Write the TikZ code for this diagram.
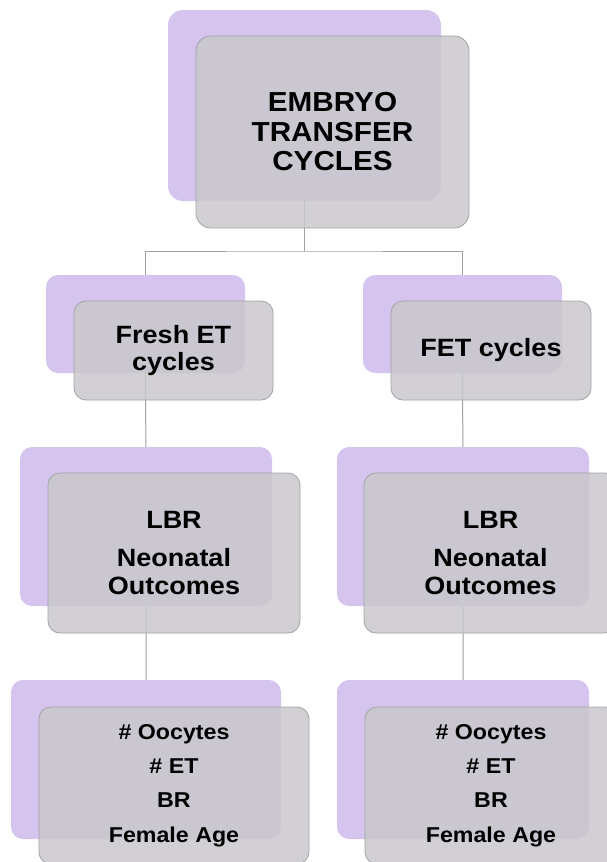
\documentclass[tikz,border=0pt]{standalone}
\usepackage{fontspec}
\setmainfont[FakeStretch=1.08]{Liberation Sans}
\usetikzlibrary{backgrounds}
\definecolor{lilac}{HTML}{D5C4EE}
\definecolor{boxgray}{HTML}{CAC8CC}
\definecolor{edge}{HTML}{A3A3A3}
\definecolor{link}{HTML}{A0A0A0}

\begin{document}
\begin{tikzpicture}[x=1pt,y=-1pt,every node/.style={font=\bfseries,text=black},back/.style={fill=lilac,rounded corners=12pt,inner sep=0pt},front/.style={fill=boxgray,fill opacity=.85,text opacity=1,draw=edge,line width=.8pt,rounded corners=12pt,inner sep=0pt,align=center},wire/.style={draw=link,line width=1pt}]
\path[use as bounding box] (0,0) rectangle (606,862);

\node[back,rounded corners=15pt,minimum width=273pt,minimum height=191pt] (topP) at (304.5,105.5) {};
\node[back,minimum width=199pt,minimum height=98pt] (freshP) at (145.5,324) {};
\node[back,minimum width=199pt,minimum height=98pt] (fetP) at (462.5,324) {};
\node[back,minimum width=252pt,minimum height=159pt] (outLP) at (146,526.5) {};
\node[back,minimum width=252pt,minimum height=159pt] (outRP) at (463,526.5) {};
\node[back,minimum width=270pt,minimum height=159pt] (covLP) at (146,759.5) {};
\node[back,minimum width=252pt,minimum height=159pt] (covRP) at (463,759.5) {};

\node[front,rounded corners=15pt,minimum width=273pt,minimum height=192pt,font=\bfseries\fontsize{27.5}{29.5}\selectfont] (top) at (332.5,132) {EMBRYO\\TRANSFER\\CYCLES};
\node[front,minimum width=199pt,minimum height=99pt,font=\bfseries\fontsize{25}{27.7}\selectfont] (fresh) at (173.5,350.5) {Fresh ET\\cycles};
\node[front,minimum width=200pt,minimum height=99pt,font=\bfseries\fontsize{25}{27.7}\selectfont] (fet) at (491,350.5) {FET cycles};
\node[front,minimum width=252pt,minimum height=160pt,font=\bfseries\fontsize{25}{27.7}\selectfont] (outL) at (174,553) {LBR\\[10pt]Neonatal\\Outcomes};
\node[front,minimum width=253pt,minimum height=160pt,font=\bfseries\fontsize{25}{27.7}\selectfont] (outR) at (490.5,553) {LBR\\[10pt]Neonatal\\Outcomes};
\node[front,minimum width=270pt,minimum height=157pt,font=\bfseries\fontsize{21.5}{34.3}\selectfont] (covL) at (174,785.5) {\# Oocytes\\\# ET\\BR\\Female Age};
\node[front,minimum width=252pt,minimum height=157pt,font=\bfseries\fontsize{21.5}{34.3}\selectfont] (covR) at (491,785.5) {\# Oocytes\\\# ET\\BR\\Female Age};

\coordinate (bus) at (304.5,251);
\begin{scope}[on background layer]
\draw[wire] (topP.center) -- (bus);
\draw[wire] (freshP.center) |- (bus) -| (fetP.center);
\draw[wire] (freshP.center) -- (outLP.center) -- (covLP.center);
\draw[wire] (fetP.center) -- (outRP.center) -- (covRP.center);
\end{scope}

\end{tikzpicture}
\end{document}
